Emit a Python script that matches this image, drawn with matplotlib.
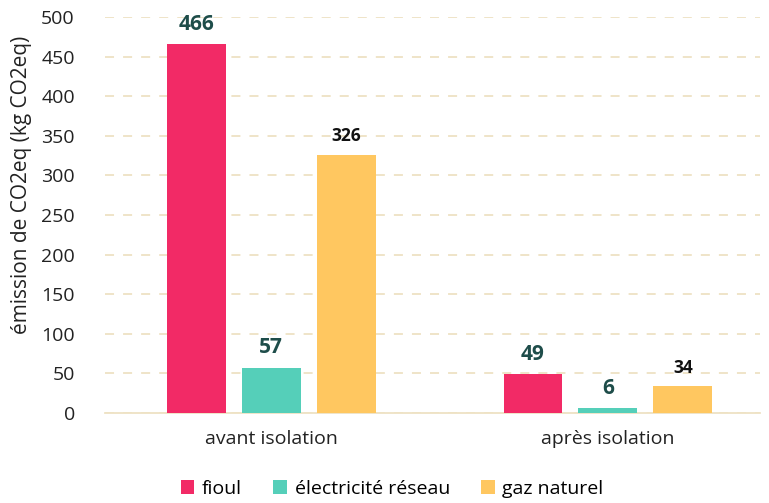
import matplotlib
matplotlib.use("Agg")
import matplotlib.pyplot as plt
import numpy as np

plt.rcParams['font.family'] = ['Open Sans', 'DejaVu Sans']

categories = ['avant isolation', 'après isolation']
series = ['fioul', 'électricité réseau', 'gaz naturel']
fioul = [466, 49]
electricite = [57, 6]
gaz = [326, 34]
couleurs = ['#F22A66', '#55CFB9', '#FFC760']
couleurs_labels = ['#1E4D4A', '#1E4D4A', '#111111']
tailles_labels = [15, 15, 12.5]

fig = plt.figure(figsize=(7.69, 5.03), dpi=100)
ax = fig.add_axes([0.137, 0.179, 0.851, 0.787])

x = np.arange(len(categories))
w = 0.175
pas = 0.2225
for i, (nom, vals) in enumerate(zip(series, [fioul, electricite, gaz])):
    pos = x + (i - 1) * pas
    ax.bar(pos, vals, w, color=couleurs[i], label=nom, zorder=3)
    for p, v in zip(pos, vals):
        ax.text(p, v + 12, str(v), ha='center', va='bottom', fontsize=tailles_labels[i],
                fontweight='bold', color=couleurs_labels[i])

ax.set_ylim(0, 500)
ax.set_xlim(-0.4926, 1.451)
ax.set_yticks(range(0, 501, 50))
ax.set_xticks(x)
ax.set_xticklabels(categories)
ax.tick_params(axis='both', length=0, labelsize=14, colors='#222222')
ax.tick_params(axis='x', pad=12)
ax.tick_params(axis='y', pad=22)
ax.yaxis.grid(True, linestyle=(0, (5, 5)), color='#EEE2C4', linewidth=1.3, zorder=0)
for s in ['top', 'right', 'left']:
    ax.spines[s].set_visible(False)
ax.spines['bottom'].set_color('#EEE2C4')
ax.spines['bottom'].set_linewidth(1.3)
ax.set_ylabel('émission de CO2eq (kg CO2eq)', fontsize=15, color='#222222')
ax.yaxis.set_label_coords(-0.112, 0.575)

fig.legend(loc='lower center', ncol=3, frameon=False, fontsize=14, handlelength=0.7,
           handleheight=0.7, handletextpad=0.4, columnspacing=1.6, bbox_to_anchor=(0.51, -0.025))

fig.savefig('out.png', dpi=100)
